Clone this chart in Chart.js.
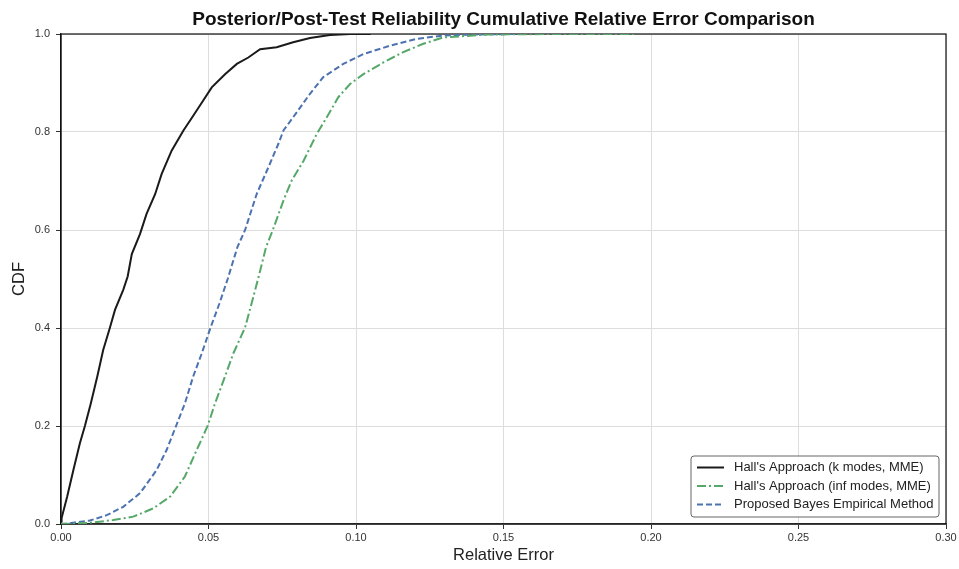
<!DOCTYPE html>
<html>
<head>
<meta charset="utf-8">
<script src="https://cdn.jsdelivr.net/npm/chart.js@4.4.1/dist/chart.umd.min.js"></script>
<style>
  html, body { margin: 0; padding: 0; background: #fff; }
  #wrap { width: 959px; height: 569px; }
</style>
</head>
<body>
<div id="wrap"><canvas id="myChart" width="959" height="569"></canvas></div>
<script>
// ECDF points (relative error -> CDF)
const kModesErr = [0, 0.0002, 0.0021, 0.0042, 0.0064, 0.0081, 0.0101, 0.0123, 0.0143, 0.0166, 0.0183, 0.0211, 0.0226, 0.024, 0.0268, 0.029, 0.0319, 0.0341, 0.0375, 0.0415, 0.0437, 0.0471, 0.0511, 0.0556, 0.0596, 0.0635, 0.0675, 0.0731, 0.0787, 0.0844, 0.0912, 0.098, 0.105];
const kModesCdf = [0.005, 0.012, 0.056, 0.11, 0.165, 0.2, 0.246, 0.301, 0.355, 0.401, 0.437, 0.478, 0.505, 0.551, 0.592, 0.633, 0.673, 0.714, 0.762, 0.803, 0.823, 0.854, 0.891, 0.918, 0.939, 0.952, 0.969, 0.973, 0.983, 0.992, 0.998, 1.0, 1.0];

const infModesErr = [0, 0.009, 0.0177, 0.0245, 0.0313, 0.037, 0.042, 0.046, 0.0497, 0.0522, 0.0556, 0.0584, 0.0624, 0.0646, 0.0668, 0.0695, 0.0718, 0.0754, 0.0782, 0.0822, 0.0867, 0.0901, 0.094, 0.098, 0.1025, 0.1093, 0.116, 0.1228, 0.1296, 0.145, 0.17, 0.195];
const infModesCdf = [0, 0.002, 0.008, 0.015, 0.032, 0.056, 0.097, 0.151, 0.2, 0.246, 0.301, 0.348, 0.401, 0.45, 0.5, 0.565, 0.6, 0.66, 0.701, 0.741, 0.796, 0.83, 0.871, 0.898, 0.918, 0.942, 0.963, 0.98, 0.993, 0.999, 1.0, 1.0];

const bayesErr = [0, 0.002, 0.0098, 0.0155, 0.0211, 0.0268, 0.0324, 0.0358, 0.039, 0.042, 0.0448, 0.0477, 0.0507, 0.0537, 0.0565, 0.0598, 0.0624, 0.0663, 0.0703, 0.0737, 0.0754, 0.0787, 0.0844, 0.0889, 0.0957, 0.1025, 0.1115, 0.1206, 0.1296, 0.14, 0.155];
const bayesCdf = [0, 0.001, 0.007, 0.018, 0.035, 0.063, 0.11, 0.151, 0.2, 0.246, 0.301, 0.348, 0.401, 0.45, 0.5, 0.565, 0.6, 0.673, 0.728, 0.776, 0.803, 0.83, 0.878, 0.912, 0.939, 0.959, 0.976, 0.99, 0.997, 0.999, 1.0];

const seriesNames = ["Hall's Approach (k modes, MME)", "Hall's Approach (inf modes, MME)", "Proposed Bayes Empirical Method"];
const xTicks = [0, 0.05, 0.10, 0.15, 0.20, 0.25, 0.30];
const yTicks = [0, 0.2, 0.4, 0.6, 0.8, 1.0];

const FONT = "'Liberation Sans', Arial, sans-serif";
const pts = (xs, ys) => xs.map((x, i) => ({ x: x, y: ys[i] }));

const styles = [
  { color: '#1a1a1a', dash: [] },
  { color: '#55a868', dash: [9, 3, 2, 3] },
  { color: '#4c72b0', dash: [6, 3] }
];

const frame = {
  id: 'frame',
  beforeDatasetsDraw(chart) {
    const { ctx, chartArea: a } = chart;
    ctx.save();
    ctx.strokeStyle = '#111';
    ctx.lineWidth = 1.2;
    ctx.strokeRect(a.left, a.top, a.right - a.left, a.bottom - a.top);
    ctx.restore();
  }
};

const boxLegend = {
  id: 'boxLegend',
  afterDraw(chart) {
    const { ctx, chartArea: a } = chart;
    const w = 248, h = 61;
    const x0 = a.right - 7 - w, y0 = a.bottom - 7 - h;
    ctx.save();
    ctx.beginPath();
    ctx.roundRect(x0, y0, w, h, 3);
    ctx.fillStyle = 'rgba(255,255,255,0.85)';
    ctx.fill();
    ctx.strokeStyle = '#666';
    ctx.lineWidth = 1;
    ctx.stroke();
    ctx.font = '13px ' + FONT;
    ctx.textBaseline = 'middle';
    seriesNames.forEach((name, i) => {
      const yy = y0 + 11.5 + i * 18.5;
      ctx.beginPath();
      ctx.setLineDash(styles[i].dash);
      ctx.strokeStyle = styles[i].color;
      ctx.lineWidth = 2;
      ctx.moveTo(x0 + 6, yy);
      ctx.lineTo(x0 + 33, yy);
      ctx.stroke();
      ctx.setLineDash([]);
      ctx.fillStyle = '#222';
      ctx.fillText(name, x0 + 43, yy);
    });
    ctx.restore();
  }
};

const data = {
  datasets: [
    { label: seriesNames[0], data: pts(kModesErr, kModesCdf) },
    { label: seriesNames[1], data: pts(infModesErr, infModesCdf) },
    { label: seriesNames[2], data: pts(bayesErr, bayesCdf) }
  ].map((d, i) => Object.assign(d, {
    borderColor: styles[i].color,
    borderDash: styles[i].dash,
    borderWidth: 2,
    pointRadius: 0,
    tension: 0,
    fill: false
  }))
};

const config = {
  type: 'line',
  data,
  options: {
    responsive: false,
    animation: false,
    layout: { padding: { left: 0, right: 13, top: 0, bottom: 0 } },
    plugins: {
      legend: { display: false },
      tooltip: { enabled: false },
      title: {
        display: true,
        fullSize: false,
        text: 'Posterior/Post-Test Reliability Cumulative Relative Error Comparison',
        color: '#111',
        font: { family: FONT, size: 19, weight: 'bold' },
        padding: { top: 8, bottom: 3.2 }
      }
    },
    scales: {
      x: {
        type: 'linear',
        min: 0,
        max: 0.30,
        afterFit(scale) { scale.height = 45; },
        afterBuildTicks(scale) { scale.ticks = xTicks.map(v => ({ value: v })); },
        ticks: {
          color: '#333',
          font: { family: FONT, size: 11 },
          padding: 2,
          callback: v => v.toFixed(2)
        },
        grid: { color: '#dddddd', tickColor: '#333', tickLength: 5, lineWidth: 1 },
        border: { color: '#444', width: 1.4 },
        title: {
          display: true,
          text: 'Relative Error',
          color: '#222',
          font: { family: FONT, size: 16.5 },
          padding: { top: 0, bottom: 4 }
        }
      },
      y: {
        type: 'linear',
        min: 0,
        max: 1,
        afterFit(scale) { scale.width = 61; },
        afterBuildTicks(scale) { scale.ticks = yTicks.map(v => ({ value: v })); },
        ticks: {
          color: '#333',
          font: { family: FONT, size: 11 },
          padding: 6,
          callback: v => v.toFixed(1)
        },
        grid: { color: '#dddddd', tickColor: '#333', tickLength: 5, lineWidth: 1 },
        border: { color: '#111', width: 1.2 },
        title: {
          display: true,
          text: 'CDF',
          color: '#222',
          font: { family: FONT, size: 16.5 },
          padding: { top: 10, bottom: 0 }
        }
      }
    }
  },
  plugins: [frame, boxLegend]
};

const myChart = new Chart(document.querySelector('#myChart'), config);
</script>
</body>
</html>
